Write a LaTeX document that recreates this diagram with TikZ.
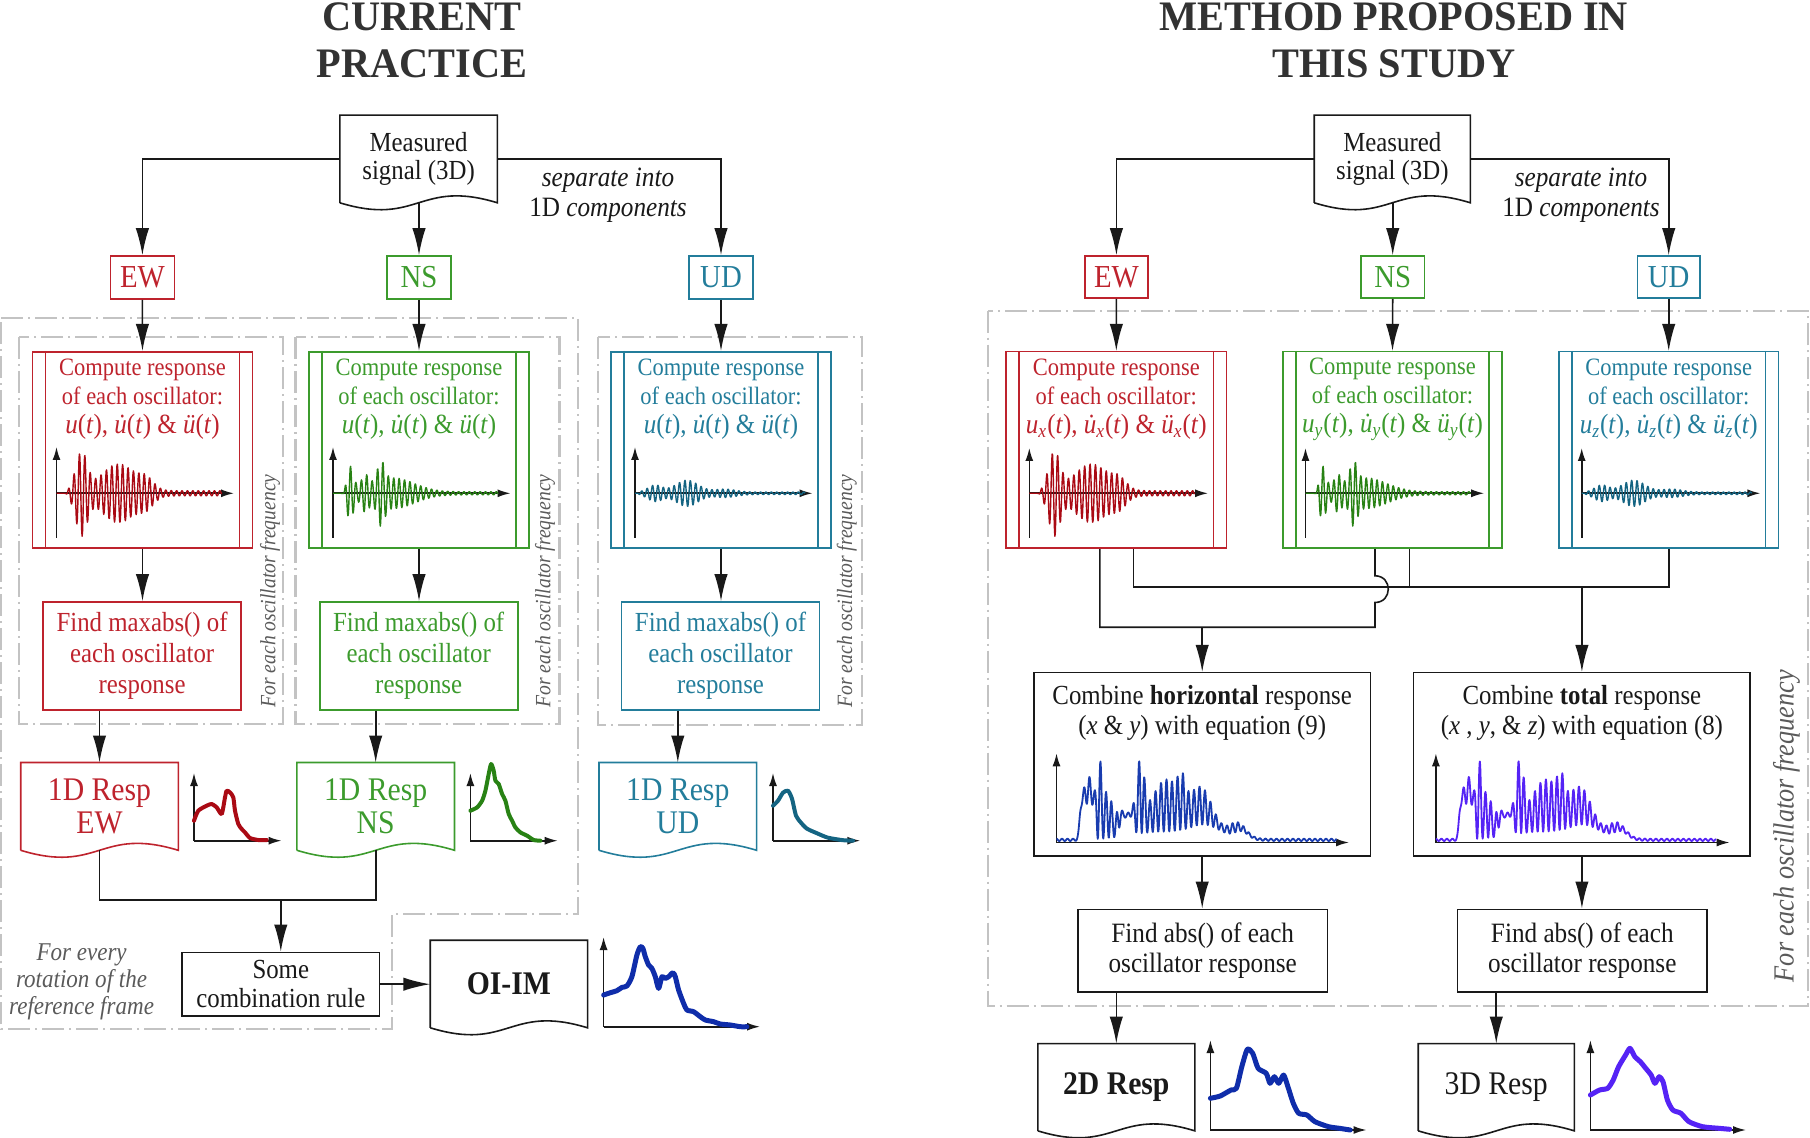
\documentclass[tikz,border=0pt]{standalone}
\usepackage{fontspec}
\setmainfont{Liberation Serif}[FakeStretch=0.9]
\newfontfamily\titlefam{Liberation Serif}[FakeStretch=0.96]
\usetikzlibrary{arrows.meta,calc}
\definecolor{ink}{RGB}{25,25,25}
\definecolor{redc}{RGB}{190,35,45}
\definecolor{redw}{RGB}{170,10,20}
\definecolor{grnc}{RGB}{60,155,45}
\definecolor{grnw}{RGB}{40,130,20}
\definecolor{tealc}{RGB}{35,125,155}
\definecolor{tealw}{RGB}{20,100,130}
\definecolor{bluep}{RGB}{25,60,175}
\definecolor{blued}{RGB}{15,45,170}
\definecolor{viol}{RGB}{85,35,245}
\definecolor{dgray}{RGB}{195,195,195}
\definecolor{tgray}{RGB}{50,50,50}
\definecolor{rgray}{RGB}{90,90,90}
\newcommand\fTitle{\titlefam\fontsize{21}{24}\selectfont\bfseries}
\newcommand\fMeas{\fontsize{13.8}{14.2}\selectfont}
\newcommand\fLab{\fontsize{16}{16}\selectfont}
\newcommand\fSep{\fontsize{14}{15}\selectfont}
\newcommand\fComp{\fontsize{12.5}{14.5}\selectfont}
\newcommand\fMath{\fontsize{13.9}{14.5}\selectfont}
\newcommand\fFind{\fontsize{13.8}{15.5}\selectfont}
\newcommand\fResp{\fontsize{16.5}{16.5}\selectfont}
\newcommand\fComb{\fontsize{13.8}{14.7}\selectfont}
\newcommand\fOI{\fontsize{16.5}{16.5}\selectfont\bfseries}
\newcommand\fEvery{\fontsize{12.8}{13.5}\selectfont\itshape}
\newcommand\fRot{\fontsize{10.9}{12}\selectfont\itshape}
\newcommand\fRotB{\fontsize{14.6}{15}\selectfont\itshape}
\newcommand\fCmb{\fontsize{13.8}{15}\selectfont}
\newcommand\fAbs{\fontsize{14}{15}\selectfont}
\newcommand\udt{\ooalign{\textit{u}\cr\hidewidth\textit{\char"02D9}\hidewidth\cr}}
\newcommand\docout[2]{\draw[#2,line width=0.8pt] (#1.south west) -- (#1.north west) -- (#1.north east) -- (#1.south east) .. controls ($(#1.south)+(0,-24)$) and ($(#1.south)+(0,24)$) .. (#1.south west);}
\newcommand\ppbars[2]{\draw[#2,line width=0.8pt] ([xshift=6.9pt]#1.north west) -- ([xshift=6.9pt]#1.south west) ([xshift=-6.9pt]#1.north east) -- ([xshift=-6.9pt]#1.south east);}
\begin{document}
\begin{tikzpicture}[x=0.5pt,y=-0.5pt,
  declare function={
    g(\t,\c,\w)=exp(-min(((\t-\c)/\w)*((\t-\c)/\w),9));
    L(\t,\c)=1/(1+exp(max(min(-1.5*(\t-\c),9),-9)));
    osc(\t)=sin(66.667*mod(\t,5.4));
    sr(\t)=L(\t,11)*(38*g(\t,25,8)+27*g(\t,62,24)+9*g(\t,90,10)+2.5)*osc(\t);
    sg(\t)=L(\t,12)*(24*g(\t,17,5)+12*g(\t,32,5)+20*g(\t,48,5)+14*g(\t,60,30)+1.5)*osc(\t);
    st(\t)=L(\t,4)*(7*g(\t,20,10)+12*g(\t,52,16)+3*g(\t,90,15)+1.2)*osc(\t);
    cb(\t)=1.5+36*L(\t,23)*(1-L(\t,38))+18*L(\t,63)*(1-L(\t,78))+9*g(\t,105,50)*L(\t,22)+12*g(\t,150,22)+8*g(\t,185,10)+(25*g(\t,32,6)+75*g(\t,43,4.5)+45*g(\t,52,5)+20*g(\t,61,4)+65*g(\t,84,5)+50*g(\t,110,22)+22*g(\t,125,5)+32*g(\t,145,14)+8*g(\t,178,10)+2.2)*(0.5+0.5*cos(65.4545*mod(\t,5.5)));
  },
  conn/.style={draw=ink, line width=0.8pt},
  arr/.style={conn, -{Latex[length=13.5pt,width=6.7pt]}},
  axs/.style={draw=ink, line width=0.8pt, -{Latex[length=6.5pt,width=4pt]}},
  bx/.style={draw, line width=0.8pt, inner sep=0pt, align=center},
  dashbox/.style={draw=dgray, line width=1.1pt, dash pattern=on 11pt off 2.5pt on 1pt off 2.5pt},
  sig/.style={line width=0.7pt, line join=round},
  mini/.style={line width=2pt, line join=round, line cap=round},
  big/.style={line width=2.5pt, line join=round, line cap=round},
]
\useasboundingbox (0,0) rectangle (1810,1138);

% ---------------- gray frames ----------------
\draw[dashbox] (1,318) -- (578,318) -- (578,914) -- (392,914) -- (392,1029) -- (1,1029) -- cycle;
\draw[dashbox] (19,337) rectangle (283,724);
\draw[dashbox] (295.5,337) rectangle (559.5,724);
\draw[dashbox] (598,337) rectangle (862,725);
\draw[dashbox] (988,310.7) rectangle (1808,1006);

% ---------------- titles ----------------
\node[font=\fTitle, text=tgray, anchor=base] (t1a) at (422,30.5) {CURRENT};
\node[font=\fTitle, text=tgray, anchor=base] (t1b) at (422,78) {PRACTICE};
\node[font=\fTitle, text=tgray, anchor=base] (t2a) at (1394,30.5) {METHOD PROPOSED IN};
\node[font=\fTitle, text=tgray, anchor=base] (t2b) at (1394,78) {THIS STUDY};

% ================= LEFT PANEL =================
\node[bx, draw=none, text=ink, font=\fMeas, minimum width=78pt, minimum height=43pt] (meas1) at (418.6,159) {Measured\\signal (3D)};
\docout{meas1}{ink}
\node[font=\fSep, text=ink, align=center] (sep1) at (608,195) {\textit{separate into}\\1D \textit{components}};

\node[bx, draw=redc, text=redc, font=\fLab, minimum width=32pt, minimum height=21.5pt] (ew1) at (142.4,277.5) {EW};
\node[bx, draw=grnc, text=grnc, font=\fLab, minimum width=31.75pt, minimum height=21.5pt] (ns1) at (419,277.5) {NS};
\node[bx, draw=tealc, text=tealc, font=\fLab, minimum width=31.8pt, minimum height=21.5pt] (ud1) at (721,277.5) {UD};

\draw[arr] (meas1.west) -| (ew1.north);
\draw[arr] (meas1.east) -| (ud1.north);
\draw[arr] (meas1.south -| ns1.north) -- (ns1.north);

% compute boxes
\node[bx, draw=redc, minimum width=110pt, minimum height=98.15pt] (ew1c) at (142.5,449.9) {};
\node[bx, draw=grnc, minimum width=110pt, minimum height=98.15pt] (ns1c) at (419,449.9) {};
\node[bx, draw=tealc, minimum width=110pt, minimum height=98.15pt] (ud1c) at (721,449.9) {};
\ppbars{ew1c}{redc}\ppbars{ns1c}{grnc}\ppbars{ud1c}{tealc}
\node[font=\fComp, text=redc, align=center] (ew1t) at (142.5,399) {Compute response\\of each oscillator:\\{\fMath\textit{u}(\textit{t}), \udt(\textit{t}) \& \textit{\"u}(\textit{t})}};
\node[font=\fComp, text=grnc, align=center] (ns1t) at (419,399) {Compute response\\of each oscillator:\\{\fMath\textit{u}(\textit{t}), \udt(\textit{t}) \& \textit{\"u}(\textit{t})}};
\node[font=\fComp, text=tealc, align=center] (ud1t) at (721,399) {Compute response\\of each oscillator:\\{\fMath\textit{u}(\textit{t}), \udt(\textit{t}) \& \textit{\"u}(\textit{t})}};

\begin{scope}[shift={(56.5,493.3)},yscale=-1]
  \draw[axs] (0,-44.7) -- (0,46.3);
  \draw[axs] (0,0) -- (177.5,0);
  \draw[redw,sig] plot[domain=0:165,samples=413] (\x,{sr(\x)});
\end{scope}
\begin{scope}[shift={(333,493.3)},yscale=-1]
  \draw[axs] (0,-44.7) -- (0,46.3);
  \draw[axs] (0,0) -- (177.5,0);
  \draw[grnw,sig] plot[domain=0:165,samples=413] (\x,{sg(\x)});
\end{scope}
\begin{scope}[shift={(635,493.3)},yscale=-1]
  \draw[axs] (0,-44.7) -- (0,46.3);
  \draw[axs] (0,0) -- (177.5,0);
  \draw[tealw,sig] plot[domain=0:170,samples=426] (\x,{st(\x)});
\end{scope}

% find maxabs
\node[bx, draw=redc, text=redc, font=\fFind, minimum width=99pt, minimum height=54pt] (ew1f) at (142.1,655.9) {Find maxabs() of\\each oscillator\\response};
\node[bx, draw=grnc, text=grnc, font=\fFind, minimum width=99pt, minimum height=54pt] (ns1f) at (418.7,655.9) {Find maxabs() of\\each oscillator\\response};
\node[bx, draw=tealc, text=tealc, font=\fFind, minimum width=99pt, minimum height=54pt] (ud1f) at (720.5,655.9) {Find maxabs() of\\each oscillator\\response};

\draw[arr] (ew1.south) -- (ew1c.north);
\draw[arr] (ns1.south) -- (ns1c.north);
\draw[arr] (ud1.south) -- (ud1c.north);
\draw[arr] (ew1c.south) -- (ew1c.south |- ew1f.north);
\draw[arr] (ns1c.south) -- (ns1c.south |- ns1f.north);
\draw[arr] (ud1c.south) -- (ud1c.south |- ud1f.north);

\node[rotate=90, font=\fRot, text=rgray] (r1) at (270,591) {For each oscillator frequency};
\node[rotate=90, font=\fRot, text=rgray] (r2) at (545,591) {For each oscillator frequency};
\node[rotate=90, font=\fRot, text=rgray] (r3) at (846.7,591) {For each oscillator frequency};

% 1D docs
\node[bx, draw=none, text=redc, font=\fResp, minimum width=78pt, minimum height=43.1pt] (ew1d) at (99.5,806.4) {1D Resp\\EW};
\node[bx, draw=none, text=grnc, font=\fResp, minimum width=78pt, minimum height=43.1pt] (ns1d) at (375.7,806.4) {1D Resp\\NS};
\node[bx, draw=none, text=tealc, font=\fResp, minimum width=78pt, minimum height=43.1pt] (ud1d) at (677.8,806.4) {1D Resp\\UD};
\docout{ew1d}{redc}\docout{ns1d}{grnc}\docout{ud1d}{tealc}
\draw[arr] (ew1f.south -| ew1d.north) -- (ew1d.north);
\draw[arr] (ns1f.south -| ns1d.north) -- (ns1d.north);
\draw[arr] (ud1f.south -| ud1d.north) -- (ud1d.north);

% mini plots
\begin{scope}[shift={(194,840.7)},yscale=-1]
  \draw[axs] (0,0) -- (0,67.7);
  \draw[axs] (0,0) -- (87.6,0);
  \draw[redw,mini] plot[smooth,tension=0.4] coordinates {(0,20) (4.3,30) (12.7,35) (17.7,36.7) (22.7,33.3) (27.7,26.7) (31,43.3) (32.7,50) (36,48.3) (39.3,43.3) (41,30) (44.3,16.7) (47.7,11.7) (51,8.3) (56,2.7) (64.3,0.7) (72.7,0.7)};
\end{scope}
\begin{scope}[shift={(470.4,840.7)},yscale=-1]
  \draw[axs] (0,0) -- (0,67.7);
  \draw[axs] (0,0) -- (87.3,0);
  \draw[grnw,mini] plot[smooth,tension=0.4] coordinates {(0,30) (6.7,33.3) (11.7,40) (15,50) (18.3,66.7) (20.7,76.7) (23.3,70) (25,60) (28.3,56.7) (31.7,46.7) (35,40) (38.3,26.7) (41.7,20) (45,13.3) (50,8.3) (56.7,5) (63.3,0.7) (70,0)};
\end{scope}
\begin{scope}[shift={(773,840.7)},yscale=-1]
  \draw[axs] (0,0) -- (0,67.7);
  \draw[axs] (0,0) -- (87.3,0);
  \draw[tealw,mini] plot[smooth,tension=0.4] coordinates {(0,35) (5,40) (10,48) (15,50) (19,42) (23,25) (28,18) (34,12) (45,7) (55,3) (70,0.5) (80,0)};
\end{scope}

% combination
\coordinate (mY) at (0,900);
\node[bx, draw=ink, text=ink, font=\fComb, minimum width=98.8pt, minimum height=31.85pt] (comb) at (280.8,984.2) {Some\\combination rule};
\draw[conn] (ew1d.south) |- (ns1d.south |- mY) -- (ns1d.south);
\draw[arr] (comb.north |- mY) -- (comb.north);
\node[bx, draw=none, text=ink, font=\fOI, minimum width=77.85pt, minimum height=43pt] (oiim) at (508.9,984) {OI-IM};
\docout{oiim}{ink}
\draw[arr] (comb.east) -- (comb.east -| oiim.west);
\node[font=\fEvery, text=rgray, align=center] (every) at (81.6,982) {For every\\rotation of the\\reference frame};
\begin{scope}[shift={(603.6,1026.7)},yscale=-1]
  \draw[axs] (0,0) -- (0,89.7);
  \draw[axs] (0,0) -- (156.4,0);
  \draw[blued,big] plot[smooth,tension=0.4] coordinates {(0,31.7) (6.7,34) (13.3,36) (18.3,39.3) (23.3,40.7) (28.3,50) (33.3,71.7) (36.7,80) (39.3,78.3) (41.7,70) (45,61.7) (48.3,58.3) (51.7,50) (55,38.3) (58.3,50) (61.7,48.3) (65,50) (69.3,54) (71.7,50) (75,36.7) (80,23.3) (83.3,16.7) (90,15) (96.7,10) (101.7,6.7) (110,5) (116.7,2.7) (126.7,1.7) (136.7,0) (143.3,0)};
\end{scope}

% ================= RIGHT PANEL =================
\node[bx, draw=none, text=ink, font=\fMeas, minimum width=77.25pt, minimum height=43pt] (meas2) at (1392.3,159) {Measured\\signal (3D)};
\docout{meas2}{ink}
\node[font=\fSep, text=ink, align=center] (sep2) at (1581,195) {\textit{separate into}\\1D \textit{components}};

\node[bx, draw=redc, text=redc, font=\fLab, minimum width=31.65pt, minimum height=21pt] (ew2) at (1116.4,277) {EW};
\node[bx, draw=grnc, text=grnc, font=\fLab, minimum width=31.75pt, minimum height=21pt] (ns2) at (1392.7,277) {NS};
\node[bx, draw=tealc, text=tealc, font=\fLab, minimum width=31.25pt, minimum height=21pt] (ud2) at (1668.7,277) {UD};
\draw[arr] (meas2.west) -| (ew2.north);
\draw[arr] (meas2.east) -| (ud2.north);
\draw[arr] (meas2.south -| ns2.north) -- (ns2.north);

\node[bx, draw=redc, minimum width=110.35pt, minimum height=98.3pt] (ew2c) at (1116.3,450) {};
\node[bx, draw=grnc, minimum width=109.5pt, minimum height=98.3pt] (ns2c) at (1392.5,450) {};
\node[bx, draw=tealc, minimum width=109.7pt, minimum height=98.3pt] (ud2c) at (1668.7,450) {};
\ppbars{ew2c}{redc}\ppbars{ns2c}{grnc}\ppbars{ud2c}{tealc}
\draw[arr] (ew2.south) -- (ew2c.north);
\draw[arr] (ns2.south) -- (ns2c.north);
\draw[arr] (ud2.south) -- (ud2c.north);
\node[font=\fComp, text=redc, align=center] (ew2t) at (1116.3,399) {Compute response\\of each oscillator:\\{\fMath\textit{u\textsubscript{x}}(\textit{t}), \udt\textit{\textsubscript{x}}(\textit{t}) \& \textit{\"u\textsubscript{x}}(\textit{t})}};
\node[font=\fComp, text=grnc, align=center] (ns2t) at (1392.5,399) {Compute response\\of each oscillator:\\{\fMath\textit{u\textsubscript{y}}(\textit{t}), \udt\textit{\textsubscript{y}}(\textit{t}) \& \textit{\"u\textsubscript{y}}(\textit{t})}};
\node[font=\fComp, text=tealc, align=center] (ud2t) at (1668.7,399) {Compute response\\of each oscillator:\\{\fMath\textit{u\textsubscript{z}}(\textit{t}), \udt\textit{\textsubscript{z}}(\textit{t}) \& \textit{\"u\textsubscript{z}}(\textit{t})}};

\begin{scope}[shift={(1029.3,493.3)},yscale=-1]
  \draw[axs] (0,-44.7) -- (0,45.3);
  \draw[axs] (0,0) -- (178.7,0);
  \draw[redw,sig] plot[domain=0:165,samples=413] (\x,{sr(\x)});
\end{scope}
\begin{scope}[shift={(1305.5,493.3)},yscale=-1]
  \draw[axs] (0,-44.7) -- (0,45.3);
  \draw[axs] (0,0) -- (178.7,0);
  \draw[grnw,sig] plot[domain=0:165,samples=413] (\x,{sg(\x)});
\end{scope}
\begin{scope}[shift={(1581.7,493.3)},yscale=-1]
  \draw[axs] (0,-44.7) -- (0,45.3);
  \draw[axs] (0,0) -- (178.7,0);
  \draw[tealw,sig] plot[domain=0:170,samples=426] (\x,{st(\x)});
\end{scope}

% combine boxes
\node[bx, draw=ink, minimum width=168.15pt, minimum height=91.5pt] (comH) at (1202.2,764.2) {};
\node[bx, draw=ink, minimum width=168.3pt, minimum height=91.5pt] (comT) at (1581.9,764.2) {};
\node[font=\fCmb, text=ink, align=center] (comHt) at (1202.2,713) {Combine \textbf{horizontal} response\\(\textit{x} \& \textit{y}) with equation (9)};
\node[font=\fCmb, text=ink, align=center] (comTt) at (1581.9,713) {Combine \textbf{total} response\\(\textit{x} , \textit{y}, \& \textit{z}) with equation (8)};

% connectors with jump
\coordinate (hY) at (0,627.3);
\coordinate (tY) at (0,587.3);
\coordinate (ewL) at ([xshift=-8.25pt]ew2c.south);
\coordinate (ewR) at ([xshift=8.55pt]ew2c.south);
\coordinate (nsL) at ([xshift=-8.75pt]ns2c.south);
\coordinate (nsR) at ([xshift=8.4pt]ns2c.south);
\draw[conn] (ewL) |- (nsL |- hY) -- ([yshift=-26.7pt]nsL) .. controls +(17.7,0) and +(17.7,0) .. ([yshift=-13.35pt]nsL) -- (nsL);
\draw[conn] (ewR) |- (ud2c.south |- tY) -- (ud2c.south);
\draw[conn] (nsR) -- (nsR |- tY);
\draw[arr] (comH.north |- hY) -- (comH.north);
\draw[arr] (comT.north |- tY) -- (comT.north);

\begin{scope}[shift={(1056.5,842.5)},yscale=-1]
  \draw[axs] (0,0) -- (0,89.2);
  \draw[axs] (0,0) -- (292.5,0);
  \draw[bluep,line width=0.9pt,line join=round] plot[domain=0:280,samples=701] (\x,{cb(\x)});
\end{scope}
\begin{scope}[shift={(1435.9,842.5)},yscale=-1]
  \draw[axs] (0,0) -- (0,89.2);
  \draw[axs] (0,0) -- (293.7,0);
  \draw[viol,line width=0.9pt,line join=round] plot[domain=0:280,samples=701] (\x,{cb(\x)});
\end{scope}

% find abs
\node[bx, draw=ink, text=ink, font=\fAbs, minimum width=124.75pt, minimum height=41.2pt] (fndH) at (1202.75,950.5) {Find abs() of each\\oscillator response};
\node[bx, draw=ink, text=ink, font=\fAbs, minimum width=124.7pt, minimum height=41.2pt] (fndT) at (1582.3,950.5) {Find abs() of each\\oscillator response};
\draw[arr] (comH.south) -- (comH.south |- fndH.north);
\draw[arr] (comT.south) -- (comT.south |- fndT.north);

\node[rotate=90, font=\fRotB, text=rgray] (r4) at (1786.6,826) {For each oscillator frequency};

% 2D / 3D docs
\node[bx, draw=none, text=ink, font=\fResp\bfseries, minimum width=77.7pt, minimum height=42.85pt] (d2) at (1116.3,1087.2) {2D Resp};
\node[bx, draw=none, text=ink, font=\fResp, minimum width=77.25pt, minimum height=42.85pt] (d3) at (1496.25,1087.2) {3D Resp};
\docout{d2}{ink}\docout{d3}{ink}
\draw[arr] (fndH.south -| d2.north) -- (d2.north);
\draw[arr] (fndT.south -| d3.north) -- (d3.north);

\begin{scope}[shift={(1210.4,1130)},yscale=-1]
  \draw[axs] (0,0) -- (0,90);
  \draw[axs] (0,0) -- (156.1,0);
  \draw[blued,big] plot[smooth,tension=0.4] coordinates {(0,31.7) (9.8,34) (20.6,40) (26,41.7) (31.4,63.3) (36.9,80.7) (42.3,76.7) (47.7,61.7) (55.8,56.7) (59.6,46.7) (64,53.3) (68.3,46.7) (73.2,55) (77.5,43.3) (82.9,26.7) (88.3,16.7) (96.5,15) (104.6,8.3) (118.2,3.3) (129,1.7) (139.8,0)};
\end{scope}
\begin{scope}[shift={(1590.4,1130)},yscale=-1]
  \draw[axs] (0,0) -- (0,90);
  \draw[axs] (0,0) -- (155.6,0);
  \draw[viol,big] plot[smooth,tension=0.4] coordinates {(0,35) (9.2,40) (17.3,41.7) (22.8,50) (28.2,63.3) (35.2,75) (39.6,81.7) (44.4,73.3) (49.9,68.3) (55.3,61.7) (60.7,55) (64.5,46.7) (68.8,53.3) (72.6,48.3) (77,30) (82.4,20) (90.5,16.7) (98.6,8.3) (112.2,3.3) (128.5,1.7) (139.3,0.7)};
\end{scope}
\end{tikzpicture}
\end{document}
